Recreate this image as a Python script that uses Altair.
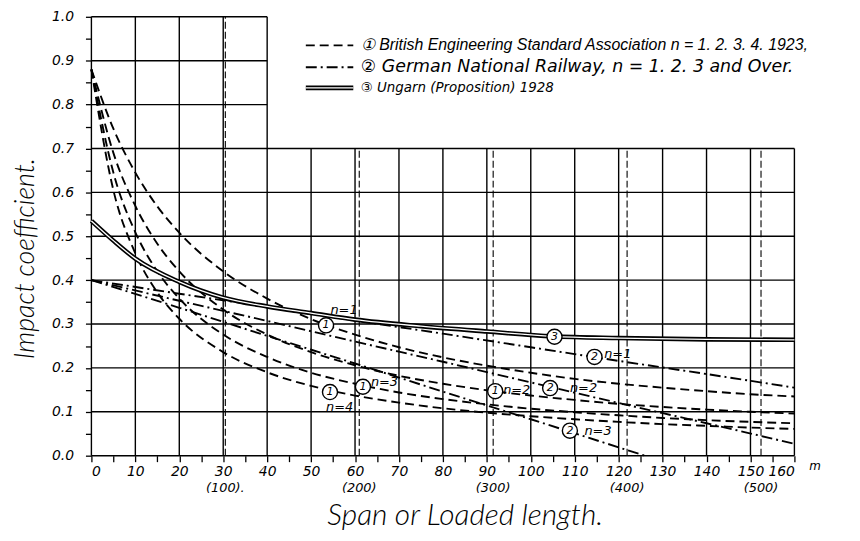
import altair as alt
import pandas as pd

# ---------------- values ----------------
# (1) British Engineering Standard Association 1923, n = 1..4  (dashed)
besa_x  = [0, 5, 10, 15, 20, 30, 40, 50, 60, 70, 80, 90, 100, 110, 120, 130, 140, 150, 160]
besa_n1 = [0.88, 0.745, 0.645, 0.568, 0.508, 0.42, 0.358, 0.311, 0.276, 0.247, 0.224, 0.205, 0.189, 0.175, 0.164, 0.155, 0.147, 0.140, 0.135]
besa_n2 = [0.88, 0.69, 0.569, 0.483, 0.42, 0.333, 0.276, 0.236, 0.206, 0.182, 0.164, 0.149, 0.137, 0.127, 0.118, 0.111, 0.105, 0.100, 0.096]
besa_n3 = [0.88, 0.645, 0.509, 0.42, 0.358, 0.276, 0.225, 0.189, 0.164, 0.144, 0.129, 0.117, 0.107, 0.099, 0.092, 0.086, 0.081, 0.077, 0.074]
besa_n4 = [0.88, 0.605, 0.461, 0.372, 0.312, 0.236, 0.19, 0.159, 0.137, 0.121, 0.108, 0.098, 0.090, 0.083, 0.077, 0.072, 0.068, 0.064, 0.061]

# (2) German National Railway, n = 1, 2, 3  (dash-dot)
german_x   = [0, 20, 40, 60, 80, 100, 120, 140, 160]
german_n1  = [0.40, 0.369, 0.339, 0.308, 0.278, 0.247, 0.216, 0.186, 0.155]
german_n2  = [0.40, 0.353, 0.307, 0.260, 0.214, 0.167, 0.120, 0.074, 0.027]
german_x3  = [0, 20, 40, 60, 80, 100, 120, 126]
german_n3  = [0.40, 0.337, 0.273, 0.210, 0.146, 0.083, 0.019, 0.0]

# (3) Ungarn (Proposition) 1928  (double solid line)
ungarn_x = [0, 5, 10, 20, 30, 40, 50, 60, 75, 90, 105, 120, 140, 160]
ungarn_y = [0.535, 0.49, 0.449, 0.396, 0.36, 0.34, 0.325, 0.31, 0.295, 0.283, 0.272, 0.268, 0.265, 0.264]

# curve annotations: circled number and n-label
ann_num = ["1", "1", "1", "1", "2", "2", "2", "3"]
ann_x   = [53.4, 54.3, 61.8, 91.9, 104.4, 108.9, 114.5, 105.4]
ann_y   = [0.297, 0.145, 0.157, 0.147, 0.154, 0.057, 0.225, 0.271]
n_text  = ["n=1", "n=4", "n=3", "n=2", "n=2", "n=3", "n=1"]
n_x     = [57.5, 56.5, 66.7, 96.8, 112.0, 115.3, 119.8]
n_y     = [0.333, 0.110, 0.167, 0.150, 0.154, 0.057, 0.232]

# legend texts
leg_labels = ["\u2460 British Engineering Standard Association  n = 1. 2. 3. 4. 1923,",
              "\u2461 German National Railway,  n = 1. 2. 3  and Over.",
              "\u2462 Ungarn (Proposition) 1928"]
leg_font = [16, 17.5, 13.5]
leg_family = ["Liberation Sans", "DejaVu Sans", "DejaVu Sans"]

# ticks / grid
x_grid = list(range(0, 161, 10))
y_grid = [round(i * 0.1, 1) for i in range(11)]
x_ticks = list(range(0, 161, 5))
y_ticks = [round(i * 0.05, 2) for i in range(21)]
ft_pos = [30.48, 60.96, 91.44, 121.92, 152.4]
ft_lab = ["(100).", "(200)", "(300)", "(400)", "(500)"]

# ---------------- layout ----------------
W, H = 708, 442
BOX_X, BOX_Y = 40, 0.7          # legend notch in the frame
LEG_X0, LEG_X1, LEG_TX = 48.8, 59.6, 61.3
LEG_Y = [0.935, 0.885, 0.838]
HAND = "DejaVu Sans"
TITLE_FONT = "Lato"

# ---------------- tables ----------------
rows = []
def add(series, key, xs, ys):
    for a, b in zip(xs, ys):
        rows.append({"series": series, "key": key, "x": a, "y": b})

add("BESA", "b1", besa_x, besa_n1)
add("BESA", "b2", besa_x, besa_n2)
add("BESA", "b3", besa_x, besa_n3)
add("BESA", "b4", besa_x, besa_n4)
add("German", "g1", german_x, german_n1)
add("German", "g2", german_x, german_n2)
add("German", "g3", german_x3, german_n3)
add("Ungarn", "u", ungarn_x, ungarn_y)
# legend samples
for s, yy in zip(["BESA", "German", "Ungarn"], LEG_Y):
    add(s, "leg_" + s, [LEG_X0, LEG_X1], [yy, yy])
lines = pd.DataFrame(rows)

v_df = pd.DataFrame({"x": x_grid, "y0": 0.0,
                     "y1": [1.0 if v <= BOX_X else BOX_Y for v in x_grid]})
h_df = pd.DataFrame({"y": y_grid, "x0": 0.0,
                     "x1": [160 if v <= BOX_Y + 1e-9 else BOX_X for v in y_grid]})
ft_df = pd.DataFrame({"x": ft_pos, "y0": 0.0,
                      "y1": [1.0 if v <= BOX_X + 1 else BOX_Y for v in ft_pos],
                      "lab": ft_lab})
ann_df = pd.DataFrame({"x": ann_x, "y": ann_y, "t": ann_num})
n_df = pd.DataFrame({"x": n_x, "y": n_y, "t": n_text})
leg_df = pd.DataFrame({"x": [LEG_TX] * 3, "y": LEG_Y, "t": leg_labels,
                       "fs": leg_font, "fam": leg_family})
m_df = pd.DataFrame({"x": [160], "t": ["m"]})

# ---------------- scales / axes ----------------
xscale = alt.Scale(domain=[0, 160], nice=False, zero=False)
yscale = alt.Scale(domain=[0, 1.0], nice=False, zero=False)

xaxis = alt.Axis(values=x_ticks, grid=False, domain=False,
                 labelExpr="datum.value % 10 == 0 ? datum.label : ''",
                 tickColor="black", tickSize=6, tickWidth=1.3,
                 labelFont=HAND, labelFontSize=14, labelFontStyle="italic",
                 labelColor="black", labelPadding=3,
                 title="Span or Loaded length.", titleFont=TITLE_FONT,
                 titleFontWeight=300, titleFontStyle="italic", titleFontSize=30,
                 titleColor="black", titleX=376, titleY=60, titleBaseline="middle",
                 titleAnchor="middle")
yaxis = alt.Axis(values=y_ticks, grid=False, domain=False,
                 labelExpr="round(datum.value*100) % 10 == 0 ? format(datum.value, '.1f') : ''",
                 tickColor="black", tickSize=6, tickWidth=1.3,
                 labelFont=HAND, labelFontSize=14, labelFontStyle="italic",
                 labelColor="black", labelPadding=12, labelBaseline="middle",
                 title="Impact coefficient.", titleFont=TITLE_FONT,
                 titleFontWeight=300, titleFontStyle="italic", titleFontSize=27,
                 titleColor="black", titleX=-66, titleY=243, titleBaseline="middle",
                 titleAngle=270, titleAlign="center")

def X(f):
    return alt.X(f, type="quantitative", scale=xscale, axis=xaxis)

def Y(f):
    return alt.Y(f, type="quantitative", scale=yscale, axis=yaxis)

# ---------------- layers ----------------
vgrid = alt.Chart(v_df).mark_rule(color="black", strokeWidth=1.4).encode(
    x=X("x"), y=Y("y0"), y2="y1")
hgrid = alt.Chart(h_df).mark_rule(color="black", strokeWidth=1.4).encode(
    y=Y("y"), x=X("x0"), x2="x1")
ftlines = alt.Chart(ft_df).mark_rule(color="black", strokeWidth=1.1, strokeDash=[7, 3]).encode(
    x=X("x"), y=Y("y0"), y2="y1")

base = alt.Chart(lines)
besa = base.transform_filter(alt.datum.series == "BESA").mark_line(
    color="black", strokeWidth=1.9, strokeDash=[9, 5], interpolate="monotone").encode(
    x=X("x"), y=Y("y"), detail="key:N", order="x:Q")
german = base.transform_filter(alt.datum.series == "German").mark_line(
    color="black", strokeWidth=1.9, strokeDash=[11, 4, 2, 4], interpolate="monotone").encode(
    x=X("x"), y=Y("y"), detail="key:N", order="x:Q")
ung_outer = base.transform_filter(alt.datum.series == "Ungarn").mark_line(
    color="black", strokeWidth=4.6, interpolate="monotone").encode(
    x=X("x"), y=Y("y"), detail="key:N", order="x:Q")
ung_inner = base.transform_filter(alt.datum.series == "Ungarn").mark_line(
    color="white", strokeWidth=1.3, interpolate="monotone").encode(
    x=X("x"), y=Y("y"), detail="key:N", order="x:Q")

circles = alt.Chart(ann_df).mark_point(shape="circle", size=230, filled=True,
                                        fill="white", stroke="black", strokeWidth=1.4,
                                        opacity=1).encode(x=X("x"), y=Y("y"))
circ_txt = alt.Chart(ann_df).mark_text(font=HAND, fontSize=11, fontStyle="italic",
                                        color="black", baseline="middle").encode(
    x=X("x"), y=Y("y"), text="t:N")
n_txt = alt.Chart(n_df).mark_text(font=HAND, fontSize=13, fontStyle="italic",
                                   color="black", baseline="middle").encode(
    x=X("x"), y=Y("y"), text="t:N")

leg_base = alt.Chart(leg_df)
leg_txt_lib = leg_base.transform_filter(alt.datum.fam == "Liberation Sans").mark_text(
    font="Liberation Sans", fontStyle="italic", color="black", align="left",
    baseline="middle").encode(x=X("x"), y=Y("y"), text="t:N",
                              size=alt.Size("fs:Q", scale=None))
leg_txt_dv = leg_base.transform_filter(alt.datum.fam == "DejaVu Sans").mark_text(
    font="DejaVu Sans", fontStyle="italic", color="black", align="left",
    baseline="middle").encode(x=X("x"), y=Y("y"), text="t:N",
                              size=alt.Size("fs:Q", scale=None))

ft_txt = alt.Chart(ft_df).mark_text(font=HAND, fontSize=13, fontStyle="italic",
                                     color="black", baseline="middle").encode(
    x=X("x"), y=alt.value(H + 33), text="lab:N")
m_txt = alt.Chart(m_df).mark_text(font=HAND, fontSize=12, fontStyle="italic",
                                   color="black", align="left", dx=15, baseline="middle").encode(
    x=X("x"), y=alt.value(H + 10), text="t:N")

chart = alt.layer(
    vgrid, hgrid, ftlines, besa, german, ung_outer, ung_inner,
    circles, circ_txt, n_txt, leg_txt_lib, leg_txt_dv, ft_txt, m_txt
).properties(
    width=W, height=H,
    autosize=alt.AutoSizeParams(type="none"),
    padding={"left": 84, "top": 7, "right": 58, "bottom": 76},
    background="white",
).configure_view(stroke=None)

chart.save("out.html", embed_options={"renderer": "svg", "actions": False})
